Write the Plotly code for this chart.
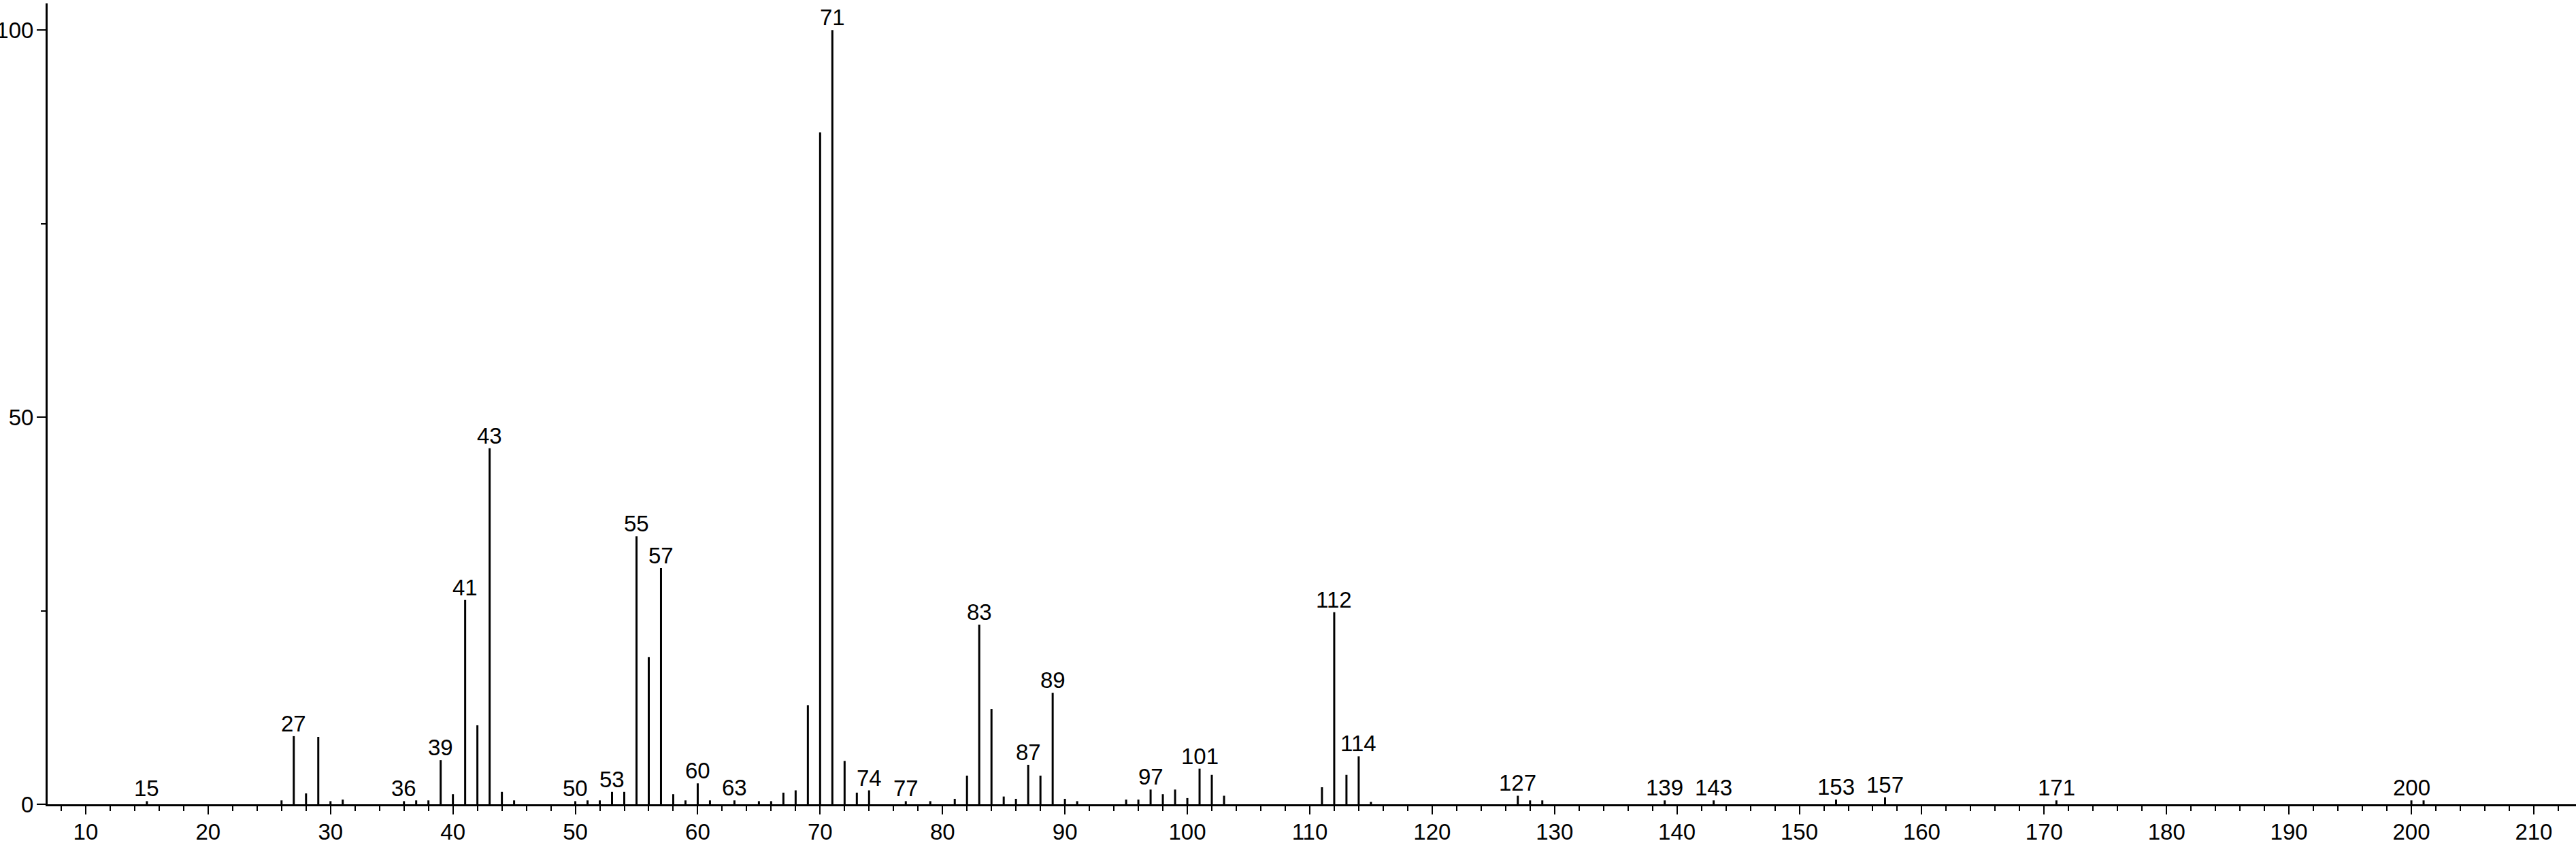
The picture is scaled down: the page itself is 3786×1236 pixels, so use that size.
import plotly.graph_objects as go

mz = [15, 26, 27, 28, 29, 30, 31, 36, 37, 38, 39, 40, 41, 42, 43, 44, 45,
      50, 51, 52, 53, 54, 55, 56, 57, 58, 59, 60, 61, 63, 65, 66, 67, 68, 69,
      70, 71, 72, 73, 74, 77, 79, 81, 82, 83, 84, 85, 86, 87, 88, 89, 90, 91,
      95, 96, 97, 98, 99, 100, 101, 102, 103, 111, 112, 113, 114, 115,
      127, 128, 129, 139, 143, 153, 157, 171, 200, 201]
intensity = [0.4, 0.5, 8.8, 1.4, 8.7, 0.4, 0.6, 0.4, 0.5, 0.5, 5.7, 1.3, 26.4, 10.2, 46.0, 1.6, 0.5,
             0.4, 0.5, 0.5, 1.6, 1.6, 34.6, 19.0, 30.5, 1.3, 0.5, 2.7, 0.5, 0.5, 0.4, 0.4, 1.5, 1.8, 12.8,
             86.8, 100.0, 5.6, 1.5, 1.8, 0.4, 0.4, 0.7, 3.7, 23.2, 12.3, 1.0, 0.7, 5.1, 3.7, 14.4, 0.7, 0.4,
             0.6, 0.6, 1.9, 1.3, 1.9, 0.8, 4.6, 3.8, 1.1, 2.2, 24.8, 3.8, 6.2, 0.3,
             1.1, 0.5, 0.5, 0.5, 0.5, 0.6, 0.9, 0.5, 0.5, 0.5]
labeled = [15, 27, 36, 39, 41, 43, 50, 53, 55, 57, 60, 63, 71, 74, 77, 83, 87, 89,
           97, 101, 112, 114, 127, 139, 143, 153, 157, 171, 200]

FONT = "Liberation Sans, Arial, Helvetica, sans-serif"

xs, ys = [], []
for m, h in zip(mz, intensity):
    xs += [m, m, None]
    ys += [0, h, None]

fig = go.Figure()
fig.add_trace(go.Scatter(x=xs, y=ys, mode="lines",
                         line=dict(color="black", width=3),
                         hoverinfo="skip", showlegend=False))

lookup = dict(zip(mz, intensity))
for m in labeled:
    fig.add_annotation(x=m, y=lookup[m], text=str(m), showarrow=False,
                       xanchor="center", yanchor="bottom", yshift=-2,
                       font=dict(family=FONT, size=33, color="black"))

fig.update_layout(
    width=3786, height=1236,
    margin=dict(l=70, r=0, t=5, b=54, autoexpand=False),
    paper_bgcolor="white", plot_bgcolor="white",
    font=dict(family=FONT, size=33, color="black"),
    showlegend=False,
)
fig.update_xaxes(range=[6.89, 213.45], dtick=10, tick0=0, ticks="outside", ticklen=12,
                 tickwidth=2, tickcolor="black", showline=True, linecolor="black",
                 linewidth=3, showgrid=False, zeroline=False, automargin=False,
                 ticklabelstandoff=-3,
                 minor=dict(dtick=2, tick0=0, ticks="outside", ticklen=7,
                            tickwidth=2, tickcolor="black", showgrid=False),
                 tickfont=dict(family=FONT, size=33, color="black"))
fig.update_yaxes(range=[0, 103.45], tickvals=[0, 50, 100], ticks="outside", ticklen=13,
                 tickwidth=2, tickcolor="black", showline=True, linecolor="black",
                 linewidth=3, showgrid=False, zeroline=False, automargin=False,
                 ticklabelstandoff=-2,
                 minor=dict(tickvals=[25, 75], ticks="outside", ticklen=7,
                            tickwidth=2, tickcolor="black", showgrid=False),
                 tickfont=dict(family=FONT, size=33, color="black"))

fig.write_html("out.html", config={"displayModeBar": False},
               post_script="document.body.style.margin='0';document.body.style.overflow='hidden';")
